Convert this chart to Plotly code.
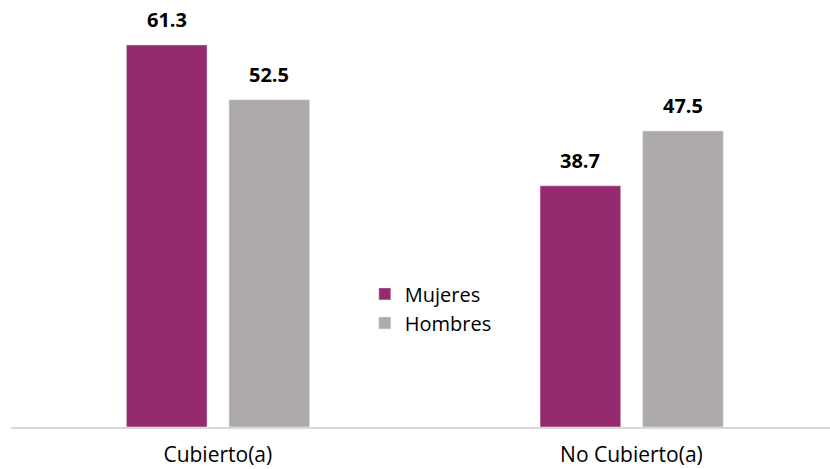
import plotly.graph_objects as go

categories = ["Cubierto(a)", "No Cubierto(a)"]
mujeres = [61.3, 38.7]
hombres = [52.5, 47.5]

font_family = "Open Sans, Noto Sans, sans-serif"

bar_w = 0.195
m_off = -0.221
h_off = 0.027

fig = go.Figure()
fig.add_trace(go.Bar(name="Mujeres", x=categories, y=mujeres, marker_color="#962a6e",
                     width=bar_w, offset=m_off))
fig.add_trace(go.Bar(name="Hombres", x=categories, y=hombres, marker_color="#aeaaaa",
                     width=bar_w, offset=h_off))

# value labels above bars
for series, off in ((mujeres, m_off), (hombres, h_off)):
    for i, v in enumerate(series):
        fig.add_annotation(x=i + off + bar_w / 2, y=v, text=f"<b>{v:.1f}</b>", showarrow=False,
                           xref="x", yref="y", yanchor="middle", yshift=25,
                           font=dict(size=20, color="#000000", family=font_family))

fig.update_layout(
    width=830, height=469,
    margin=dict(l=11, r=0, t=10, b=42),
    paper_bgcolor="white", plot_bgcolor="white",
    barmode="overlay",
    font=dict(family=font_family, size=20, color="#000000"),
    legend=dict(x=0.432, y=0.366, xanchor="left", yanchor="top",
                font=dict(size=20, family=font_family), bgcolor="rgba(0,0,0,0)",
                itemwidth=30, tracegroupgap=0),
    showlegend=True,
)
fig.update_xaxes(range=[-0.5, 1.48], showline=True, linecolor="#d9d9d9", linewidth=1.5,
                 ticks="", tickfont=dict(size=21, color="#000000"), showgrid=False,
                 ticklabelstandoff=8)
fig.update_yaxes(range=[0, 66.9], visible=False, showgrid=False, zeroline=False)

fig.write_html("out.html", config={"displayModeBar": False},
               post_script="document.body.style.margin='0';")
